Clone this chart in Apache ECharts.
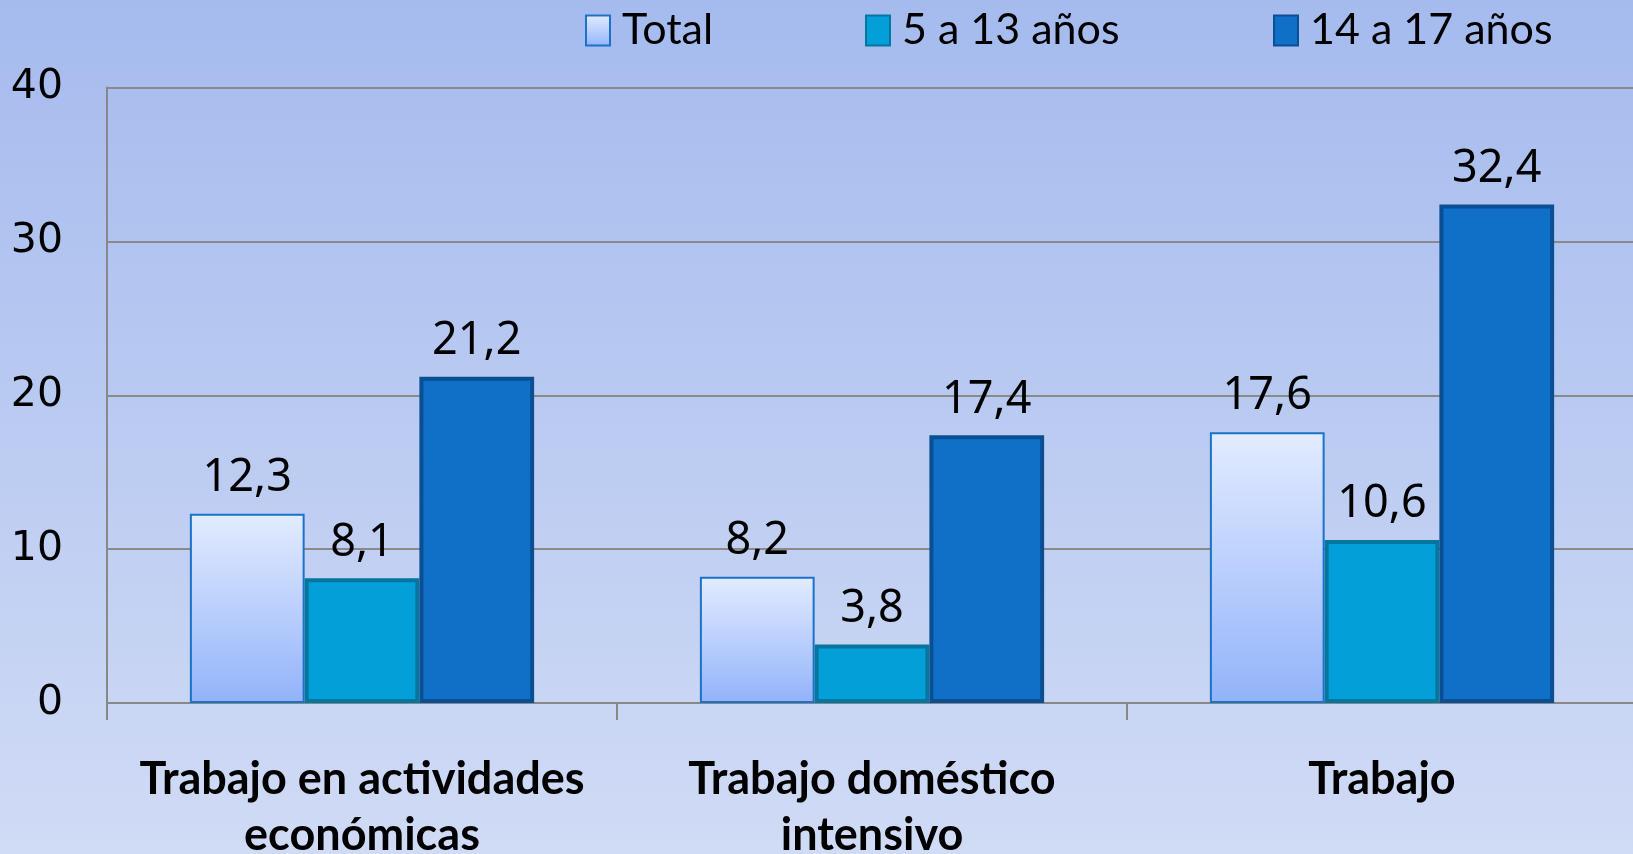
<!DOCTYPE html>
<html lang="es">
<head>
    <meta charset="UTF-8">
    <title>Trabajo infantil</title>
    <script src="https://cdn.jsdelivr.net/npm/echarts@6/dist/echarts.min.js"></script>
    <style>
        html, body { margin: 0; padding: 0; }
        #main { width: 1633px; height: 854px; }
    </style>
</head>
<body>
<div id="main"></div>

<script type="text/javascript">
    var categories = ['Trabajo en actividades\neconómicas', 'Trabajo doméstico\nintensivo', 'Trabajo'];
    var seriesNames = ['Total', '5 a 13 años', '14 a 17 años'];
    var total = [12.3, 8.2, 17.6];
    var edad5a13 = [8.1, 3.8, 10.6];
    var edad14a17 = [21.2, 17.4, 32.4];
    var yTicks = [0, 10, 20, 30, 40];

    var myChart = echarts.init(document.getElementById('main'));

    var labelFont = '"Noto Sans", "DejaVu Sans", sans-serif';
    var narrowFont = 'Lato, "Noto Sans", sans-serif';

    function dataLabel() {
        return {
            show: true,
            position: 'top',
            distance: 13,
            color: '#000',
            fontFamily: labelFont,
            fontSize: 45,
            formatter: function (p) {
                return String(p.value).replace('.', ',');
            }
        };
    }

    var styles = [
        {
            color: new echarts.graphic.LinearGradient(0, 0, 0, 1, [
                {offset: 0, color: '#e3ecff'},
                {offset: 1, color: '#92b3fa'}
            ]),
            borderColor: '#1a72c9',
            borderWidth: 2
        },
        {color: '#029fd9', borderColor: '#06769f', borderWidth: 4},
        {color: '#106fc6', borderColor: '#0a4f93', borderWidth: 4}
    ];

    // one legend per item so each can sit where the original puts it
    var legendLeft = [580, 860, 1268];
    var legends = seriesNames.map(function (name, i) {
        return {
            data: [name],
            left: legendLeft[i],
            top: 4,
            itemWidth: 24,
            itemHeight: 30,
            icon: 'rect',
            textStyle: {
                color: '#000',
                fontFamily: narrowFont,
                fontSize: 43,
                padding: [0, 0, 0, 7]
            }
        };
    });

    var option = {
        backgroundColor: {
            type: 'linear', x: 0, y: 0, x2: 0, y2: 1,
            colorStops: [
                {offset: 0, color: '#a5bbee'},
                {offset: 1, color: '#d0dbf5'}
            ]
        },
        animation: false,
        legend: legends,
        grid: {
            left: 107,
            right: -4,
            top: 87.5,
            bottom: 151,
            outerBoundsMode: 'none'
        },
        xAxis: {
            type: 'category',
            data: categories,
            axisLine: {lineStyle: {color: '#888', width: 2}},
            axisTick: {show: true, length: 17, lineStyle: {color: '#888', width: 2}},
            axisLabel: {
                interval: 0,
                margin: 48,
                color: '#000',
                fontFamily: narrowFont,
                fontWeight: 'bold',
                fontSize: 45,
                lineHeight: 56
            }
        },
        yAxis: {
            type: 'value',
            min: yTicks[0],
            max: yTicks[yTicks.length - 1],
            interval: 10,
            axisLine: {show: true, lineStyle: {color: '#888', width: 2}},
            axisTick: {show: false},
            splitLine: {lineStyle: {color: '#8a8a8a', width: 2}},
            axisLabel: {
                margin: 44,
                color: '#000',
                fontFamily: '"DejaVu Sans", sans-serif',
                fontSize: 41
            }
        },
        series: [total, edad5a13, edad14a17].map(function (vals, i) {
            return {
                name: seriesNames[i],
                type: 'bar',
                data: vals,
                barGap: '0%',
                barCategoryGap: '32.5%',
                itemStyle: styles[i],
                label: dataLabel()
            };
        })
    };

    myChart.setOption(option);
</script>
</body>
</html>
